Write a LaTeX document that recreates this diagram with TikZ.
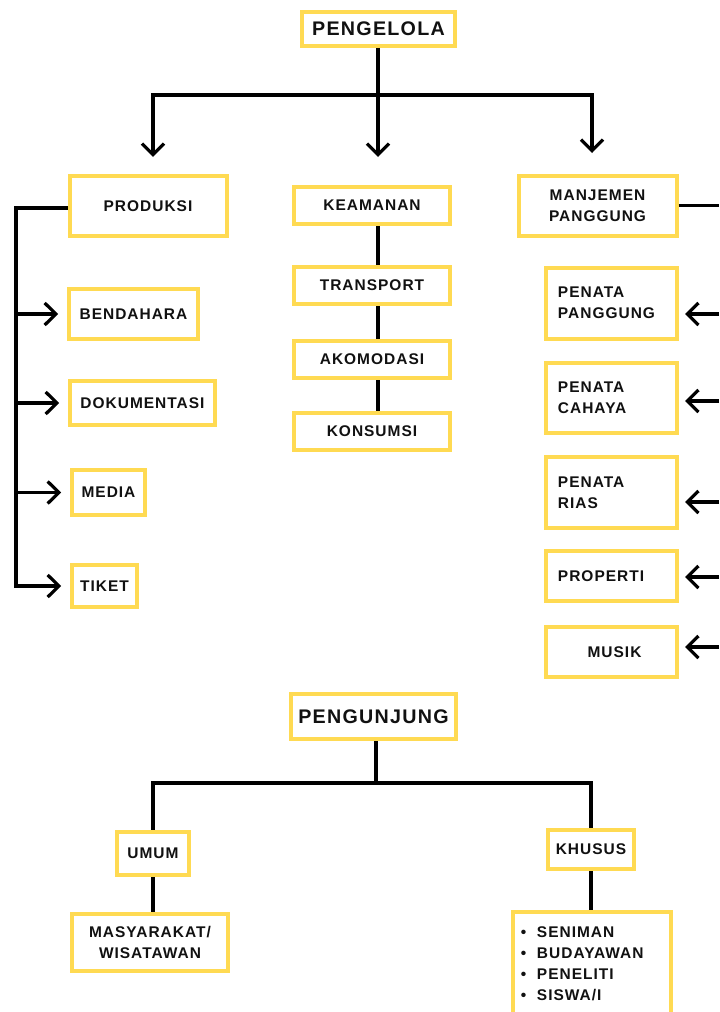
\documentclass[tikz,border=0pt]{standalone}
\usepackage{fontspec}
\setmainfont{Liberation Sans}
\newfontfamily\labelfont[LetterSpace=6.5]{Liberation Sans}
\usepackage{tikz}
\usetikzlibrary{arrows.meta}
\definecolor{boxyellow}{HTML}{FFDA52}
\definecolor{inkblack}{HTML}{111111}
\tikzset{
    box/.style={draw=boxyellow, line width=0.1cm, fill=white, inner sep=0pt, align=center,
        text=inkblack, font=\labelfont\bfseries\fontsize{11}{15}\selectfont},
    headbox/.style={box, font=\labelfont\bfseries\fontsize{14}{17}\selectfont},
    leftbox/.style={box, align=left, text width=2.675cm},
    sz/.style 2 args={minimum width=#1*0.025cm, minimum height=#2*0.025cm},
    link/.style={line width=0.08cm, draw=black},
    arr/.style={link, -{Straight Barb[length=0.28cm, width=0.55cm]}}
}

\begin{document}
\begin{tikzpicture}[x=0.025cm, y=-0.025cm]
    \clip (0,0) rectangle (719,1012);

    % pengelola
    \node (pengelola) [headbox, sz={153}{34}] at (378.5,29) {PENGELOLA};
    \coordinate (hub1) at (378,95);
    \coordinate (down1) at (153,157);
    \coordinate (down2) at (378,157);
    \coordinate (down3) at (592,153);
    \draw [link] (pengelola.south -| hub1) -- (hub1);
    \draw [arr] (hub1) -| (down1);
    \draw [arr] (hub1) -- (down2);
    \draw [arr] (hub1) -| (down3);

    % produksi
    \node (produksi) [box, sz={157}{60}] at (148,206) {PRODUKSI};
    \node (bendahara) [box, sz={129}{50}] at (133.5,314) {BENDAHARA};
    \node (dokumentasi) [box, sz={145}{44}] at (142.5,403) {DOKUMENTASI};
    \node (media) [box, sz={73}{45}] at (108.5,492.5) {MEDIA};
    \node (tiket) [box, sz={65}{42}] at (104.5,586) {TIKET};
    \coordinate (lbar) at (16,208);
    \coordinate (lend) at (16,588);
    \draw [link] (produksi.west |- lbar) -- (lbar) -- (lend);
    \foreach \n in {bendahara, dokumentasi, media, tiket}
        \draw [arr, shorten >=0.22cm] (lbar |- \n) -- (\n.west);

    % keamanan
    \node (keamanan) [box, sz={156}{37}] at (372,205.5) {KEAMANAN};
    \node (transport) [box, sz={156}{37}] at (372,285.5) {TRANSPORT};
    \node (akomodasi) [box, sz={156}{37}] at (372,359.5) {AKOMODASI};
    \node (konsumsi) [box, sz={156}{37}] at (372,431.5) {KONSUMSI};
    \draw [link] (keamanan.south -| hub1) -- (transport.north -| hub1);
    \draw [link] (transport.south -| hub1) -- (akomodasi.north -| hub1);
    \draw [link] (akomodasi.south -| hub1) -- (konsumsi.north -| hub1);

    % manjemen panggung
    \node (manjemen) [box, sz={158}{60}] at (597.5,205.5) {MANJEMEN\\PANGGUNG};
    \node (penpanggung) [leftbox, sz={131}{71}] at (611.5,303) {PENATA\\PANGGUNG};
    \node (pencahaya) [leftbox, sz={131}{70}] at (611.5,398) {PENATA\\CAHAYA};
    \node (penrias) [leftbox, sz={131}{71}] at (611.5,492.5) {PENATA\\RIAS};
    \node (properti) [leftbox, sz={131}{50}] at (611.5,576) {PROPERTI};
    \node (musik) [box, sz={131}{50}] at (611.5,652) {\hspace{0.15cm}MUSIK};
    \coordinate (redge) at (719,205.5);
    \draw [link] (manjemen.east) -- (redge);
    \coordinate (r1) at (719,314);
    \coordinate (r2) at (719,401);
    \coordinate (r3) at (719,502);
    \coordinate (r4) at (719,577);
    \coordinate (r5) at (719,647);
    \draw [arr, shorten >=0.15cm] (r1) -- (r1 -| penpanggung.east);
    \draw [arr, shorten >=0.15cm] (r2) -- (r2 -| pencahaya.east);
    \draw [arr, shorten >=0.15cm] (r3) -- (r3 -| penrias.east);
    \draw [arr, shorten >=0.15cm] (r4) -- (r4 -| properti.east);
    \draw [arr, shorten >=0.15cm] (r5) -- (r5 -| musik.east);

    % pengunjung
    \node (pengunjung) [headbox, sz={165}{45}] at (373.5,716.5) {PENGUNJUNG};
    \coordinate (hub2) at (376,783);
    \node (umum) [box, sz={72}{43}] at (153,853.5) {UMUM};
    \node (khusus) [box, sz={86}{39}] at (591,849.5) {KHUSUS};
    \node (masyarakat) [box, sz={156}{57}] at (150,942.5) {MASYARAKAT/\\WISATAWAN};
    \node (daftar) [box, align=left, text width=3.55cm, sz={158}{105}] at (592,964)
        {\makebox[0.4cm][l]{\textbullet}SENIMAN\\
         \makebox[0.4cm][l]{\textbullet}BUDAYAWAN\\
         \makebox[0.4cm][l]{\textbullet}PENELITI\\
         \makebox[0.4cm][l]{\textbullet}SISWA/I};
    \draw [link] (pengunjung.south -| hub2) -- (hub2);
    \draw [link] (hub2) -| (umum.north);
    \draw [link] (hub2) -| (khusus.north);
    \draw [link] (umum.south) -- (umum.south |- masyarakat.north);
    \draw [link] (khusus.south) -- (khusus.south |- daftar.north);
\end{tikzpicture}
\end{document}
